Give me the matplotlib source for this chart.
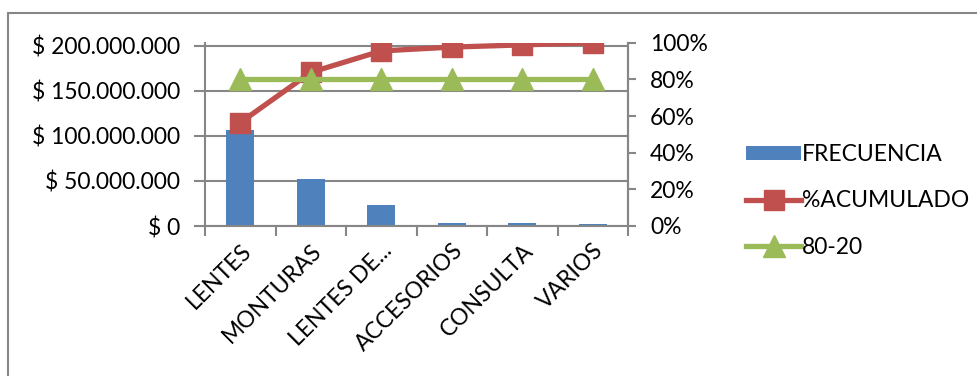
import matplotlib
matplotlib.use("Agg")
import matplotlib.pyplot as plt
import matplotlib.ticker as ticker
from matplotlib.patches import Rectangle
import numpy as np

# Values
categories = ["LENTES", "MONTURAS", "LENTES DE...", "ACCESORIOS", "CONSULTA", "VARIOS"]
frecuencia = [106.5e6, 51.8e6, 23.3e6, 3.0e6, 2.9e6, 2.5e6]
acumulado = [0.564, 0.838, 0.955, 0.976, 0.988, 1.0]
linea_80_20 = [0.8, 0.8, 0.8, 0.8, 0.8, 0.8]

left_ticks = [0, 50e6, 100e6, 150e6, 200e6]
right_ticks = [0, 0.2, 0.4, 0.6, 0.8, 1.0]

plt.rcParams["font.family"] = ["Lato", "DejaVu Sans"]
fontSize = 16.5
gridColor = "#868686"
blue = "#4F81BD"
red = "#C0504D"
green = "#9BBB59"

W, H = 977, 376
fig = plt.figure(figsize=(W / 100, H / 100), dpi=100)

# Outer chart border (only left and top edges are visible)
fig.patches.append(Rectangle((8 / W, -0.1), 1.2, 1 - 13 / H + 0.1,
                             transform=fig.transFigure, fill=False,
                             edgecolor=gridColor, linewidth=1.5))

ax = fig.add_axes([205 / W, 1 - 226 / H, (628 - 205) / W, (226 - 42.7) / H])
x = np.arange(len(categories))

ax.bar(x, frecuencia, width=0.4, color=blue, zorder=2, label="FRECUENCIA")
ax.set_xlim(-0.5, len(categories) - 0.5)
ax.set_ylim(0, 200e6 * (226 - 42.7) / (226 - 45.7))
ax.set_yticks(left_ticks)
ax.yaxis.set_major_formatter(ticker.FuncFormatter(
    lambda v, p: "$ " + f"{int(v):,}".replace(",", ".")))
ax.grid(axis="y", color=gridColor, linewidth=1.5, zorder=0)
ax.set_axisbelow(True)

ax.set_xticks(x)
ax.set_xticklabels(categories, rotation=45, ha="right", rotation_mode="anchor")
ax.set_xticks(np.arange(len(categories) + 1) - 0.5, minor=True)
ax.tick_params(axis="x", which="major", length=0, pad=10, labelsize=fontSize)
ax.tick_params(axis="x", which="minor", length=7, color=gridColor, width=1.5)
ax.tick_params(axis="y", length=8, color=gridColor, width=1.5, labelsize=fontSize, pad=10)

ax.spines["top"].set_visible(False)
for side in ["left", "bottom", "right"]:
    ax.spines[side].set_color(gridColor)
    ax.spines[side].set_linewidth(1.5)

ax2 = ax.twinx()
ax2.plot(x, acumulado, color=red, linewidth=3.8, marker="s", markersize=14.5,
         label="%ACUMULADO", zorder=3)
ax2.plot(x, linea_80_20, color=green, linewidth=3.8, marker="^", markersize=15.5,
         label="80-20", zorder=3)
ax2.set_ylim(0, 1.0)
ax2.set_yticks(right_ticks)
ax2.yaxis.set_major_formatter(ticker.FuncFormatter(lambda v, p: f"{int(round(v * 100))}%"))
ax2.tick_params(axis="y", length=6, color=gridColor, width=1.5, labelsize=fontSize, pad=10)
for side in ["top", "left", "bottom"]:
    ax2.spines[side].set_visible(False)
ax2.spines["right"].set_color(gridColor)
ax2.spines["right"].set_linewidth(1.5)

handles = ax.get_legend_handles_labels()[0] + ax2.get_legend_handles_labels()[0]
labels = ax.get_legend_handles_labels()[1] + ax2.get_legend_handles_labels()[1]
fig.legend(handles, labels, loc="upper left", bbox_to_anchor=(737 / W, 1 - 135 / H),
           frameon=False, fontsize=fontSize, handlelength=2.4, handletextpad=0.05,
           handleheight=0.55, labelspacing=1.1, borderaxespad=0)

fig.savefig("out.png", dpi=100)
